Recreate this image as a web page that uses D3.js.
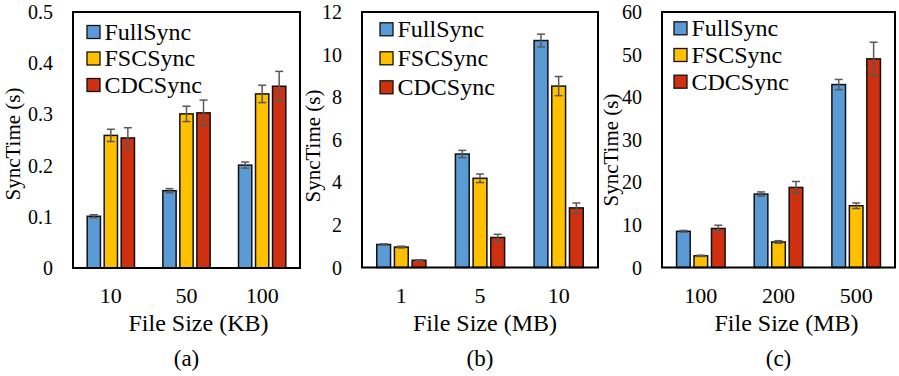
<!DOCTYPE html>
<html>
<head>
<meta charset="utf-8">
<script src="https://cdn.jsdelivr.net/npm/d3@7"></script>
<style>
  body { margin: 0; background: #fff; }
</style>
</head>
<body>
<svg id="chart" width="899" height="376"></svg>
<script>
// series names + colours
let seriesNames = ["FullSync", "FSCSync", "CDCSync"];
let seriesColors = ["#5b9bd5", "#ffc000", "#cf3010"];

// (a) KB files
let catsA = ["10", "50", "100"];
let fullA = [0.101, 0.151, 0.201];
let fullErrA = [0.003, 0.004, 0.006];
let fscA = [0.259, 0.301, 0.340];
let fscErrA = [0.012, 0.015, 0.017];
let cdcA = [0.254, 0.303, 0.355];
let cdcErrA = [0.020, 0.025, 0.029];
let yTicksA = [0, 0.1, 0.2, 0.3, 0.4, 0.5];

// (b) MB files
let catsB = ["1", "5", "10"];
let fullB = [1.08, 5.33, 10.66];
let fullErrB = [0.03, 0.17, 0.30];
let fscB = [0.96, 4.19, 8.52];
let fscErrB = [0.04, 0.20, 0.45];
let cdcB = [0.34, 1.41, 2.80];
let cdcErrB = [0.02, 0.15, 0.23];
let yTicksB = [0, 2, 4, 6, 8, 10, 12];

// (c) big MB files
let catsC = ["100", "200", "500"];
let fullC = [8.5, 17.25, 42.96];
let fullErrC = [0.2, 0.5, 1.2];
let fscC = [2.74, 6.0, 14.5];
let fscErrC = [0.15, 0.3, 0.65];
let cdcC = [9.17, 18.8, 49.0];
let cdcErrC = [0.75, 1.4, 3.9];
let yTicksC = [0, 10, 20, 30, 40, 50, 60];

let FONT = "'Liberation Serif', LiberationSerif, Tinos, 'Times New Roman', 'DejaVu Serif', serif";

let panels = [
    {label: "(a)", unit: "KB", cats: catsA, vals: [fullA, fscA, cdcA], errs: [fullErrA, fscErrA, cdcErrA], ticks: yTicksA,
     box: {x0: 73, y0: 12, x1: 300, y1: 268}, leg: {dx: 14, dy: 20, step: 26.5}, yTitle: {x: 20, y: 144}, xTitleShift: 12},
    {label: "(b)", unit: "MB", cats: catsB, vals: [fullB, fscB, cdcB], errs: [fullErrB, fscErrB, cdcErrB], ticks: yTicksB,
     box: {x0: 362, y0: 12, x1: 598, y1: 267.5}, leg: {dx: 18, dy: 17.3, step: 29}, yTitle: {x: 320, y: 146}, xTitleShift: 5},
    {label: "(c)", unit: "MB", cats: catsC, vals: [fullC, fscC, cdcC], errs: [fullErrC, fscErrC, cdcErrC], ticks: yTicksC,
     box: {x0: 662, y0: 12, x1: 895, y1: 267.5}, leg: {dx: 12, dy: 16.3, step: 26.7}, yTitle: {x: 618, y: 150}, xTitleShift: 8}
];

let svg = d3.select("#chart");

function txt(sel, size) {
    return sel.attr("font-family", FONT).style("font-family", FONT).style("font-size", size + "px").attr("fill", "#000");
}

panels.forEach(function(p) {
    let g = svg.append("g");
    let b = p.box;

    let x0 = d3.scaleBand().domain(p.cats).range([b.x0, b.x1]).padding(0);
    let groupW = x0.bandwidth() * 0.625;
    let x1 = d3.scaleBand().domain(d3.range(seriesNames.length)).range([-groupW / 2, groupW / 2]).paddingInner(0.22);
    let y = d3.scaleLinear().domain([0, p.ticks[p.ticks.length - 1]]).range([b.y1, b.y0]);

    // y tick labels (no tick lines)
    txt(g.selectAll(".ytick")
        .data(p.ticks)
        .enter()
        .append("text")
        .attr("x", b.x0 - 20)
        .attr("y", function(d) { return y(d); })
        .attr("dy", "0.35em")
        .attr("text-anchor", "end"), 20)
        .text(function(d) { return String(d); });

    // x tick labels
    txt(g.selectAll(".xtick")
        .data(p.cats)
        .enter()
        .append("text")
        .attr("x", function(d) { return x0(d) + x0.bandwidth() / 2; })
        .attr("y", 302.5)
        .attr("text-anchor", "middle"), 22)
        .text(function(d) { return d; });

    // bars
    seriesNames.forEach(function(name, si) {
        let rows = p.cats.map(function(c, ci) {
            return {cat: c, v: p.vals[si][ci], e: p.errs[si][ci]};
        });
        let cx = function(d) { return x0(d.cat) + x0.bandwidth() / 2 + x1(si); };

        g.selectAll(".bar" + si)
            .data(rows)
            .enter()
            .append("rect")
            .attr("x", cx)
            .attr("y", function(d) { return y(d.v); })
            .attr("width", x1.bandwidth())
            .attr("height", function(d) { return y(0) - y(d.v); })
            .attr("fill", seriesColors[si])
            .attr("stroke", "#111")
            .attr("stroke-width", 1.5);

        // error bars
        let mid = function(d) { return cx(d) + x1.bandwidth() / 2; };
        let eg = g.selectAll(".err" + si)
            .data(rows)
            .enter()
            .append("g")
            .attr("stroke", "#595959")
            .attr("stroke-width", 1.5);
        eg.append("line")
            .attr("x1", mid).attr("x2", mid)
            .attr("y1", function(d) { return y(d.v + d.e); })
            .attr("y2", function(d) { return y(d.v - d.e); });
        eg.append("line")
            .attr("x1", function(d) { return mid(d) - 4; }).attr("x2", function(d) { return mid(d) + 4; })
            .attr("y1", function(d) { return y(d.v + d.e); })
            .attr("y2", function(d) { return y(d.v + d.e); });
        eg.append("line")
            .attr("x1", function(d) { return mid(d) - 4; }).attr("x2", function(d) { return mid(d) + 4; })
            .attr("y1", function(d) { return y(d.v - d.e); })
            .attr("y2", function(d) { return y(d.v - d.e); });
    });

    // plot box
    g.append("rect")
        .attr("x", b.x0).attr("y", b.y0)
        .attr("width", b.x1 - b.x0).attr("height", b.y1 - b.y0)
        .attr("fill", "none")
        .attr("stroke", "#000")
        .attr("stroke-width", 2);

    // legend
    let leg = g.selectAll(".leg")
        .data(seriesNames)
        .enter()
        .append("g")
        .attr("transform", function(d, i) {
            return "translate(" + (b.x0 + p.leg.dx) + "," + (b.y0 + p.leg.dy + i * p.leg.step) + ")";
        });
    leg.append("rect")
        .attr("x", 0).attr("y", -6.5)
        .attr("width", 13).attr("height", 13)
        .attr("fill", function(d, i) { return seriesColors[i]; })
        .attr("stroke", "#111")
        .attr("stroke-width", 1.3);
    txt(leg.append("text")
        .attr("x", 17.5)
        .attr("y", 0)
        .attr("dy", "0.33em"), 24)
        .text(function(d) { return d; });

    // axis titles
    txt(g.append("text")
        .attr("transform", "translate(" + p.yTitle.x + "," + p.yTitle.y + ") rotate(-90)")
        .attr("text-anchor", "middle"), 21)
        .text("SyncTime (s)");

    txt(g.append("text")
        .attr("x", (b.x0 + b.x1) / 2 + p.xTitleShift)
        .attr("y", 330.5)
        .attr("text-anchor", "middle"), 24)
        .text("File Size (" + p.unit + ")");

    txt(g.append("text")
        .attr("x", (b.x0 + b.x1) / 2)
        .attr("y", 366)
        .attr("text-anchor", "middle"), 23)
        .text(p.label);
});
</script>
</body>
</html>
